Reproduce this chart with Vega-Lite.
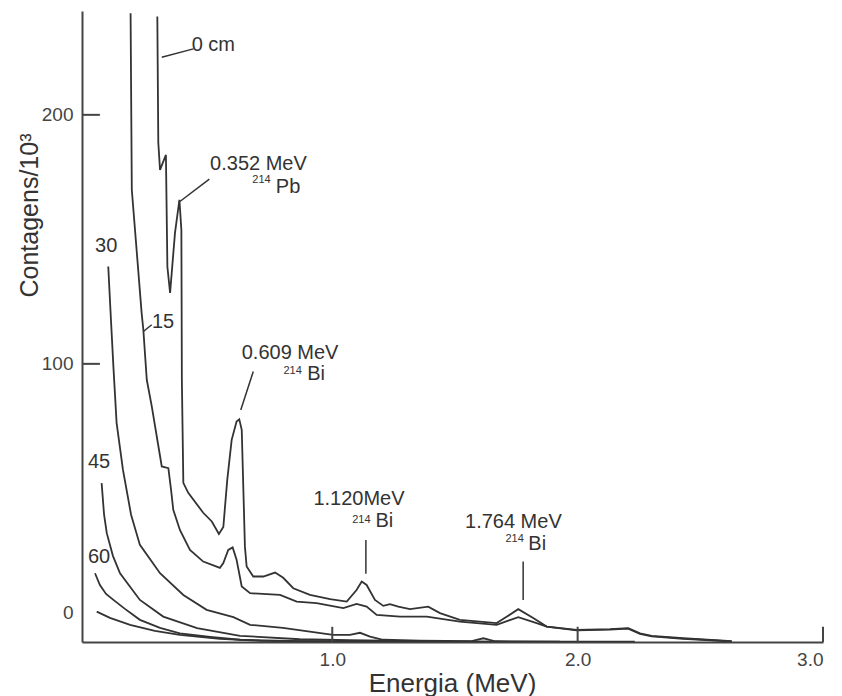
{
  "$schema": "https://vega.github.io/schema/vega-lite/v6.json",
  "width": 741,
  "height": 631,
  "autosize": "none",
  "padding": {"left": 82, "top": 11, "right": 19, "bottom": 54},
  "background": "white",
  "config": {"view": {"stroke": null}, "font": "Liberation Sans", "axis": {"grid": false}},
  "datasets": {
    "curves": [
      {"s": "0 cm", "x": 0.287, "y": 239.5}, {"s": "0 cm", "x": 0.291, "y": 188.8}, {"s": "0 cm", "x": 0.298, "y": 177.9},
      {"s": "0 cm", "x": 0.322, "y": 183.9}, {"s": "0 cm", "x": 0.328, "y": 139.0}, {"s": "0 cm", "x": 0.339, "y": 128.5},
      {"s": "0 cm", "x": 0.359, "y": 152.6}, {"s": "0 cm", "x": 0.377, "y": 165.9}, {"s": "0 cm", "x": 0.385, "y": 153.8},
      {"s": "0 cm", "x": 0.386, "y": 125.7}, {"s": "0 cm", "x": 0.387, "y": 93.6}, {"s": "0 cm", "x": 0.393, "y": 52.2},
      {"s": "0 cm", "x": 0.413, "y": 48.2}, {"s": "0 cm", "x": 0.474, "y": 40.2}, {"s": "0 cm", "x": 0.509, "y": 36.7},
      {"s": "0 cm", "x": 0.538, "y": 31.7}, {"s": "0 cm", "x": 0.556, "y": 34.5}, {"s": "0 cm", "x": 0.572, "y": 53.4},
      {"s": "0 cm", "x": 0.590, "y": 69.5}, {"s": "0 cm", "x": 0.610, "y": 76.8}, {"s": "0 cm", "x": 0.621, "y": 77.7},
      {"s": "0 cm", "x": 0.631, "y": 73.5}, {"s": "0 cm", "x": 0.644, "y": 26.6}, {"s": "0 cm", "x": 0.651, "y": 18.6},
      {"s": "0 cm", "x": 0.678, "y": 14.6}, {"s": "0 cm", "x": 0.719, "y": 14.6}, {"s": "0 cm", "x": 0.767, "y": 16.2},
      {"s": "0 cm", "x": 0.800, "y": 14.1}, {"s": "0 cm", "x": 0.841, "y": 9.9}, {"s": "0 cm", "x": 0.909, "y": 7.2},
      {"s": "0 cm", "x": 0.991, "y": 5.5}, {"s": "0 cm", "x": 1.059, "y": 4.5}, {"s": "0 cm", "x": 1.099, "y": 9.2},
      {"s": "0 cm", "x": 1.120, "y": 12.6}, {"s": "0 cm", "x": 1.140, "y": 11.2}, {"s": "0 cm", "x": 1.174, "y": 5.2},
      {"s": "0 cm", "x": 1.208, "y": 2.8}, {"s": "0 cm", "x": 1.235, "y": 3.5}, {"s": "0 cm", "x": 1.269, "y": 2.5},
      {"s": "0 cm", "x": 1.317, "y": 1.5}, {"s": "0 cm", "x": 1.391, "y": 2.5}, {"s": "0 cm", "x": 1.439, "y": -0.1},
      {"s": "0 cm", "x": 1.520, "y": -2.8}, {"s": "0 cm", "x": 1.670, "y": -4.1}, {"s": "0 cm", "x": 1.704, "y": -2.0},
      {"s": "0 cm", "x": 1.758, "y": 1.5}, {"s": "0 cm", "x": 1.819, "y": -2.1}, {"s": "0 cm", "x": 1.874, "y": -5.5},
      {"s": "0 cm", "x": 1.996, "y": -6.8}, {"s": "0 cm", "x": 2.132, "y": -6.5}, {"s": "0 cm", "x": 2.206, "y": -6.1},
      {"s": "0 cm", "x": 2.254, "y": -8.2}, {"s": "0 cm", "x": 2.302, "y": -9.2}, {"s": "0 cm", "x": 2.430, "y": -10.2},
      {"s": "0 cm", "x": 2.628, "y": -11.4},

      {"s": "15", "x": 0.178, "y": 240.8}, {"s": "15", "x": 0.183, "y": 169.9}, {"s": "15", "x": 0.223, "y": 120.5},
      {"s": "15", "x": 0.230, "y": 113.7}, {"s": "15", "x": 0.244, "y": 93.6}, {"s": "15", "x": 0.264, "y": 83.1},
      {"s": "15", "x": 0.298, "y": 63.0}, {"s": "15", "x": 0.305, "y": 58.8}, {"s": "15", "x": 0.332, "y": 58.1},
      {"s": "15", "x": 0.343, "y": 49.4}, {"s": "15", "x": 0.352, "y": 41.4}, {"s": "15", "x": 0.379, "y": 33.3},
      {"s": "15", "x": 0.420, "y": 25.3}, {"s": "15", "x": 0.474, "y": 20.6}, {"s": "15", "x": 0.529, "y": 18.6},
      {"s": "15", "x": 0.542, "y": 18.1}, {"s": "15", "x": 0.556, "y": 20.0}, {"s": "15", "x": 0.576, "y": 25.3},
      {"s": "15", "x": 0.594, "y": 26.3}, {"s": "15", "x": 0.610, "y": 21.3}, {"s": "15", "x": 0.631, "y": 10.6},
      {"s": "15", "x": 0.665, "y": 7.9}, {"s": "15", "x": 0.787, "y": 7.2}, {"s": "15", "x": 0.855, "y": 4.5},
      {"s": "15", "x": 0.936, "y": 3.9}, {"s": "15", "x": 1.045, "y": 1.9}, {"s": "15", "x": 1.099, "y": 3.6},
      {"s": "15", "x": 1.140, "y": 2.5}, {"s": "15", "x": 1.181, "y": -0.8}, {"s": "15", "x": 1.276, "y": -1.5},
      {"s": "15", "x": 1.385, "y": -1.5}, {"s": "15", "x": 1.520, "y": -3.5}, {"s": "15", "x": 1.670, "y": -4.8},
      {"s": "15", "x": 1.758, "y": -1.7}, {"s": "15", "x": 1.833, "y": -4.1}, {"s": "15", "x": 1.874, "y": -5.5},
      {"s": "15", "x": 1.996, "y": -7.0}, {"s": "15", "x": 2.132, "y": -6.7}, {"s": "15", "x": 2.206, "y": -6.3},
      {"s": "15", "x": 2.254, "y": -8.4}, {"s": "15", "x": 2.302, "y": -9.4}, {"s": "15", "x": 2.430, "y": -10.4},
      {"s": "15", "x": 2.628, "y": -11.5},

      {"s": "30", "x": 0.087, "y": 139.1}, {"s": "30", "x": 0.098, "y": 117.7}, {"s": "30", "x": 0.108, "y": 98.8},
      {"s": "30", "x": 0.121, "y": 76.3}, {"s": "30", "x": 0.147, "y": 57.4}, {"s": "30", "x": 0.180, "y": 39.4},
      {"s": "30", "x": 0.216, "y": 27.3}, {"s": "30", "x": 0.298, "y": 15.9}, {"s": "30", "x": 0.393, "y": 7.2},
      {"s": "30", "x": 0.488, "y": 1.2}, {"s": "30", "x": 0.597, "y": -1.7}, {"s": "30", "x": 0.665, "y": -4.8},
      {"s": "30", "x": 0.799, "y": -6.0}, {"s": "30", "x": 1.003, "y": -8.8}, {"s": "30", "x": 1.072, "y": -8.8},
      {"s": "30", "x": 1.113, "y": -8.0}, {"s": "30", "x": 1.154, "y": -9.5}, {"s": "30", "x": 1.207, "y": -10.8},
      {"s": "30", "x": 1.357, "y": -11.2}, {"s": "30", "x": 1.564, "y": -11.4}, {"s": "30", "x": 1.616, "y": -10.2},
      {"s": "30", "x": 1.664, "y": -11.4}, {"s": "30", "x": 1.928, "y": -11.6}, {"s": "30", "x": 2.233, "y": -11.6},

      {"s": "45", "x": 0.060, "y": 52.1}, {"s": "45", "x": 0.070, "y": 39.4}, {"s": "45", "x": 0.081, "y": 32.0},
      {"s": "45", "x": 0.106, "y": 22.9}, {"s": "45", "x": 0.135, "y": 15.9}, {"s": "45", "x": 0.216, "y": 5.2},
      {"s": "45", "x": 0.311, "y": -1.5}, {"s": "45", "x": 0.449, "y": -6.1}, {"s": "45", "x": 0.624, "y": -9.2},
      {"s": "45", "x": 0.868, "y": -10.6}, {"s": "45", "x": 1.072, "y": -11.0}, {"s": "45", "x": 1.357, "y": -11.4},
      {"s": "45", "x": 1.928, "y": -11.6},

      {"s": "60", "x": 0.033, "y": 15.9}, {"s": "60", "x": 0.053, "y": 11.2}, {"s": "60", "x": 0.078, "y": 7.6},
      {"s": "60", "x": 0.108, "y": 5.2}, {"s": "60", "x": 0.155, "y": 1.6}, {"s": "60", "x": 0.216, "y": -2.8},
      {"s": "60", "x": 0.298, "y": -6.0}, {"s": "60", "x": 0.379, "y": -8.2}, {"s": "60", "x": 0.502, "y": -9.6},
      {"s": "60", "x": 0.624, "y": -10.8}, {"s": "60", "x": 0.868, "y": -11.4}, {"s": "60", "x": 1.357, "y": -11.6},

      {"s": "fundo", "x": 0.040, "y": 0.5}, {"s": "fundo", "x": 0.094, "y": -2.0}, {"s": "fundo", "x": 0.176, "y": -4.8},
      {"s": "fundo", "x": 0.277, "y": -7.2}, {"s": "fundo", "x": 0.379, "y": -8.8}, {"s": "fundo", "x": 0.542, "y": -10.4},
      {"s": "fundo", "x": 0.705, "y": -11.2}, {"s": "fundo", "x": 1.031, "y": -11.6}, {"s": "fundo", "x": 1.560, "y": -11.7}
    ],
    "leaders": [
      {"x": 0.305, "y": 223.1, "x2": 0.434, "y2": 226.5},
      {"x": 0.379, "y": 165.2, "x2": 0.499, "y2": 174.2},
      {"x": 0.627, "y": 81.5, "x2": 0.678, "y2": 96.9},
      {"x": 1.137, "y": 15.7, "x2": 1.137, "y2": 29.3},
      {"x": 1.778, "y": 5.2, "x2": 1.778, "y2": 20.6},
      {"x": 0.230, "y": 113.0, "x2": 0.264, "y2": 115.7}
    ],
    "ticks": [
      {"x": -0.02, "y": 100, "x2": 0.053, "y2": 100},
      {"x": -0.02, "y": 200, "x2": 0.053, "y2": 200},
      {"x": 1.0, "y": -11.7, "x2": 1.0, "y2": -5.6},
      {"x": 2.0, "y": -11.7, "x2": 2.0, "y2": -5.6},
      {"x": 3.0, "y": -11.7, "x2": 3.0, "y2": -5.6}
    ],
    "notes": [
      {"t": "0 cm", "x": 0.427, "y": 225.5},
      {"t": "0.352 MeV", "x": 0.502, "y": 177.9},
      {"t": "Pb", "x": 0.770, "y": 168.7},
      {"t": "0.609 MeV", "x": 0.631, "y": 101.8},
      {"t": "Bi", "x": 0.898, "y": 93.4},
      {"t": "1.120MeV", "x": 0.923, "y": 43.4},
      {"t": "Bi", "x": 1.176, "y": 34.5},
      {"t": "1.764 MeV", "x": 1.541, "y": 34.1},
      {"t": "Bi", "x": 1.799, "y": 25.3},
      {"t": "15", "x": 0.265, "y": 114.5},
      {"t": "30", "x": 0.033, "y": 145.0},
      {"t": "45", "x": 0.004, "y": 58.2},
      {"t": "60", "x": 0.004, "y": 20.1}
    ],
    "sups": [
      {"t": "214", "x": 0.674, "y": 172.7},
      {"t": "214", "x": 0.801, "y": 96.0},
      {"t": "214", "x": 1.081, "y": 36.1},
      {"t": "214", "x": 1.706, "y": 28.5}
    ]
  },
  "encoding": {
    "x": {
      "field": "x", "type": "quantitative",
      "scale": {"domain": [-0.02, 3.0], "nice": false, "zero": false},
      "axis": {
        "values": [1, 2, 3], "format": ".1f", "ticks": false, "tickSize": 0,
        "labelPadding": 8, "labelFontSize": 19, "labelColor": "#444",
        "domainColor": "#444", "domainWidth": 2,
        "title": "Energia (MeV)", "titleFontSize": 26, "titleFontWeight": "normal", "titleColor": "#333",
        "titleX": 370, "titleY": 49, "titleAlign": "center", "titleBaseline": "alphabetic"
      }
    },
    "y": {
      "field": "y", "type": "quantitative",
      "scale": {"domain": [-11.7, 241.7], "nice": false, "zero": false},
      "axis": {
        "values": [0, 100, 200], "ticks": false, "tickSize": 0,
        "labelPadding": 9, "labelFontSize": 19, "labelColor": "#444",
        "labelExpr": "datum.value == 0 ? '0\u00a0\u00a0' : datum.label",
        "domainColor": "#444", "domainWidth": 2,
        "title": "Contagens/10³", "titleFontSize": 25, "titleFontWeight": "normal", "titleColor": "#333",
        "titleAngle": -90, "titleX": -45, "titleY": 204, "titleAlign": "center", "titleBaseline": "alphabetic"
      }
    }
  },
  "layer": [
    {
      "data": {"name": "curves"},
      "mark": {"type": "line", "color": "#333", "strokeWidth": 1.8, "clip": true},
      "encoding": {"detail": {"field": "s", "type": "nominal"}}
    },
    {
      "data": {"name": "leaders"},
      "mark": {"type": "rule", "color": "#333", "strokeWidth": 1.5},
      "encoding": {"x2": {"field": "x2"}, "y2": {"field": "y2"}}
    },
    {
      "data": {"name": "ticks"},
      "mark": {"type": "rule", "color": "#444", "strokeWidth": 2},
      "encoding": {"x2": {"field": "x2"}, "y2": {"field": "y2"}}
    },
    {
      "data": {"name": "notes"},
      "mark": {"type": "text", "align": "left", "baseline": "alphabetic", "fontSize": 20, "color": "#333"},
      "encoding": {"text": {"field": "t"}}
    },
    {
      "data": {"name": "sups"},
      "mark": {"type": "text", "align": "left", "baseline": "alphabetic", "fontSize": 11, "color": "#333"},
      "encoding": {"text": {"field": "t"}}
    }
  ]
}
